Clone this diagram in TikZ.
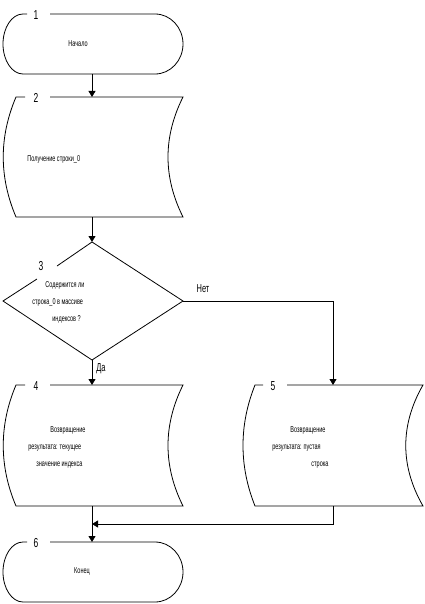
\documentclass[tikz,border=0pt]{standalone}
\usepackage{fontspec}
\setmainfont{Liberation Sans}[FakeStretch=0.65]
\usetikzlibrary{arrows.meta}
\begin{document}
\begin{tikzpicture}[x=1pt,y=-1pt,
  line width=0.8pt,
  frame/.style={inner sep=0pt, outer sep=0pt, draw=none},
  arr/.style={-{Triangle[length=6pt,width=7pt]}},
  body/.style={inner sep=0pt, font=\fontsize{8.5}{17}\selectfont},
  num/.style={inner sep=0pt, font=\fontsize{13}{15}\selectfont},
  yesno/.style={inner sep=0pt, font=\fontsize{11.5}{13}\selectfont}]
\useasboundingbox (0,0) rectangle (424,604);

% invisible frames used as connector anchors
\node[frame, minimum width=178pt, minimum height=60pt]  (b1) at (92,44) {};
\node[frame, minimum width=178pt, minimum height=120pt] (b2) at (92,157) {};
\node[frame, minimum width=182pt, minimum height=118pt] (d3) at (92,301) {};
\node[frame, minimum width=178pt, minimum height=121pt] (b4) at (92,445.5) {};
\node[frame, minimum width=180pt, minimum height=121pt] (b5) at (333,445.5) {};
\node[frame, minimum width=178pt, minimum height=60pt]  (b6) at (92,572) {};
\coordinate (jn) at (92,524);

% 1: terminator
\draw (27,14) -- (23,14) arc[start angle=270,end angle=90,x radius=20,y radius=30]
      -- (155,74) arc[start angle=90,end angle=-90,x radius=28,y radius=30] -- (50,14);
\node[num] (l1) at (36,15) {1};
\node[body] (t1) at (78,44) {Начало};

% 2: stored data
\draw (25,97) -- (16,97) .. controls (-1,137) and (-1,177) .. (16,217) -- (183,217)
      .. controls (163,177) and (163,137) .. (183,97) -- (50,97);
\node[num] (l2) at (36,98) {2};
\node[body, anchor=west] (t2) at (27,159) {Получение строки\_0};

% 3: decision
\draw (37,279) -- (3,301) -- (92,360) -- (183,301) -- (92,242) -- (57,266);
\node[num] (l3) at (41,266) {3};
\node[body, anchor=west, align=left] (t3) at (32,302)
  {\hspace*{13pt}Содержится ли\\строка\_0 в массиве\\\hspace*{20pt}индексов ?};

% 4: stored data
\draw (25,385) -- (16,385) .. controls (-1,425) and (-1,466) .. (16,506) -- (183,506)
      .. controls (163,466) and (163,425) .. (183,385) -- (50,385);
\node[num] (l4) at (36,386) {4};
\node[body, anchor=west, align=left] (t4) at (28,447)
  {\hspace*{22pt}Возвращение\\результата: текущее\\\hspace*{8pt}значение индекса};

% 5: stored data
\draw (263,385) -- (255,385) .. controls (239,425) and (239,466) .. (255,506) -- (423,506)
      .. controls (400,466) and (400,425) .. (423,385) -- (287,385);
\node[num] (l5) at (273,386) {5};
\node[body, anchor=west, align=left] (t5) at (272,447)
  {\hspace*{18pt}Возвращение\\результата: пустая\\\hspace*{39pt}строка};

% 6: terminator
\draw (27,542) -- (23,542) arc[start angle=270,end angle=90,x radius=20,y radius=30]
      -- (155,602) arc[start angle=90,end angle=-90,x radius=28,y radius=30] -- (50,542);
\node[num] (l6) at (36,543) {6};
\node[body] (t6) at (82,571) {Конец};

% connectors
\draw[arr] (b1.south) -- (b2.north);
\draw[arr] (b2.south) -- (d3.north);
\draw[arr] (d3.south) -- (b4.north);
\draw[arr] (d3.east) -| (b5.north);
\draw[arr] (b5.south) |- (jn);
\draw[arr] (b4.south) -- (b6.north);
\node[yesno] (yes) at (101,369) {Да};
\node[yesno] (no) at (203,289) {Нет};
\end{tikzpicture}
\end{document}
